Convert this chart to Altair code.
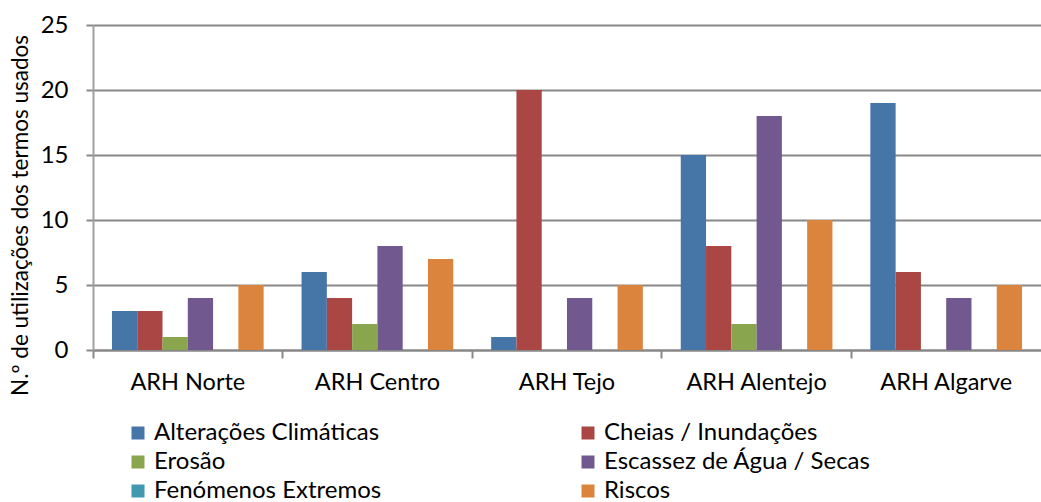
import altair as alt
import pandas as pd

regions = ["ARH Norte", "ARH Centro", "ARH Tejo", "ARH Alentejo", "ARH Algarve"]
series = ["Alterações Climáticas", "Cheias / Inundações", "Erosão",
          "Escassez de Água / Secas", "Fenómenos Extremos", "Riscos"]
alteracoes = [3, 6, 1, 15, 19]
cheias = [3, 4, 20, 8, 6]
erosao = [1, 2, 0, 2, 0]
escassez = [4, 8, 4, 18, 4]
fenomenos = [0, 0, 0, 0, 0]
riscos = [5, 7, 5, 10, 5]
series_colors = {
    "Alterações Climáticas": "#4675A8",
    "Cheias / Inundações": "#AA4644",
    "Erosão": "#89A54E",
    "Escassez de Água / Secas": "#71588F",
    "Fenómenos Extremos": "#4198AF",
    "Riscos": "#DB843D",
}
y_ticks = [0, 5, 10, 15, 20, 25]

# Vega fills legend columns top-to-bottom; this order shows row-major as in the reference
legend_order = ["Alterações Climáticas", "Erosão", "Fenómenos Extremos",
                "Cheias / Inundações", "Escassez de Água / Secas", "Riscos"]

vals = {
    "Alterações Climáticas": alteracoes,
    "Cheias / Inundações": cheias,
    "Erosão": erosao,
    "Escassez de Água / Secas": escassez,
    "Fenómenos Extremos": fenomenos,
    "Riscos": riscos,
}
rows = []
for s in series:
    for r, v in zip(regions, vals[s]):
        rows.append({"region": r, "serie": s, "value": v})
df = pd.DataFrame(rows)

FONT = "Lato"

chart = alt.Chart(df).mark_bar().encode(
    x=alt.X("region:N", sort=regions,
            scale=alt.Scale(paddingInner=0, paddingOuter=0),
            axis=alt.Axis(title=None, labelAngle=0, labelFontSize=23.5, labelFont=FONT,
                          labelColor="#000000", labelPadding=12,
                          bandPosition=0, ticks=True, tickSize=8, tickColor="#888888",
                          tickWidth=2, domainColor="#888888", domainWidth=2, grid=False)),
    xOffset=alt.XOffset("serie:N", sort=series, scale=alt.Scale(paddingOuter=0.75, paddingInner=0)),
    y=alt.Y("value:Q", scale=alt.Scale(domain=[0, 25], nice=False),
            axis=alt.Axis(values=y_ticks, title="N.º de utilizações dos termos usados",
                          titleFont=FONT, titleFontSize=22.5, titleFontWeight="normal",
                          titleColor="#000000", titleAngle=270, titleX=-73, titleY=190,
                          titleAlign="center", titleBaseline="middle",
                          labelFont=FONT, labelFontSize=24, labelColor="#000000",
                          labelPadding=18, tickSize=7, tickColor="#888888", tickWidth=2,
                          domainColor="#A0A0A0", domainWidth=2,
                          gridColor="#888888", gridWidth=2)),
    color=alt.Color("serie:N",
                    scale=alt.Scale(domain=legend_order,
                                    range=[series_colors[s] for s in legend_order]),
                    legend=alt.Legend(title=None, orient="none", legendX=33, legendY=396,
                                      columns=2, columnPadding=194, rowPadding=5,
                                      symbolType="square", symbolSize=169,
                                      symbolStrokeWidth=0, labelFont=FONT,
                                      labelFontSize=24, labelColor="#000000",
                                      labelOffset=4, padding=0, labelLimit=400)),
).properties(
    width=948, height=325,
    padding={"left": 93, "top": 25, "right": 0, "bottom": 152},
    autosize=alt.AutoSizeParams(type="none"),
).configure_view(stroke=None)

chart.save("out.html", embed_options={"renderer": "svg", "actions": False})
